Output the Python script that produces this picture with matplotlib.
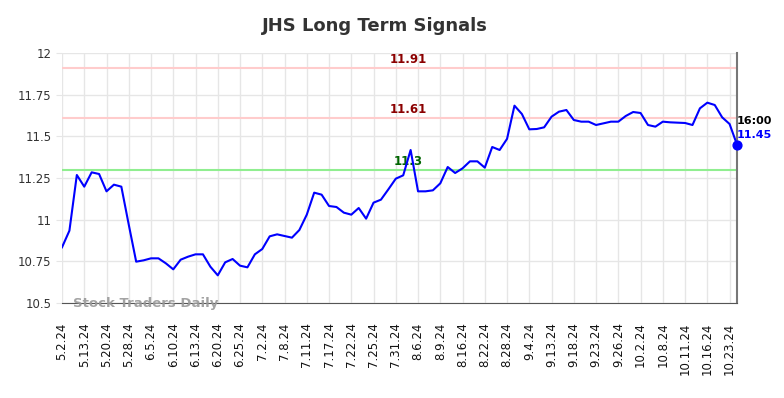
import matplotlib
matplotlib.use("Agg")
import matplotlib.pyplot as plt
import numpy as np

# tick labels (one every 3 points)
tick_labels = ["5.2.24", "5.13.24", "5.20.24", "5.28.24", "6.5.24", "6.10.24",
               "6.13.24", "6.20.24", "6.25.24", "7.2.24", "7.8.24", "7.11.24",
               "7.17.24", "7.22.24", "7.25.24", "7.31.24", "8.6.24", "8.9.24",
               "8.16.24", "8.22.24", "8.28.24", "9.4.24", "9.13.24", "9.18.24",
               "9.23.24", "9.26.24", "10.2.24", "10.8.24", "10.11.24", "10.16.24",
               "10.23.24"]

prices = [10.834, 10.934, 11.268, 11.198, 11.284, 11.274, 11.170, 11.210, 11.198, 10.970,
          10.748, 10.756, 10.768, 10.768, 10.738, 10.702, 10.760, 10.778, 10.792, 10.792,
          10.718, 10.666, 10.744, 10.764, 10.724, 10.714, 10.792, 10.824, 10.900, 10.912,
          10.902, 10.892, 10.938, 11.030, 11.162, 11.150, 11.082, 11.076, 11.042, 11.030,
          11.070, 11.006, 11.102, 11.120, 11.182, 11.246, 11.266, 11.418, 11.170, 11.170,
          11.176, 11.218, 11.316, 11.280, 11.308, 11.350, 11.350, 11.312, 11.436, 11.418,
          11.485, 11.684, 11.634, 11.542, 11.544, 11.554, 11.618, 11.648, 11.658, 11.598,
          11.588, 11.588, 11.568, 11.578, 11.588, 11.588, 11.622, 11.646, 11.640, 11.568,
          11.558, 11.588, 11.584, 11.582, 11.580, 11.568, 11.668, 11.702, 11.688, 11.614,
          11.574, 11.45]

resist_high = 11.91
resist_low = 11.61
support = 11.3
last_time = "16:00"

x = np.arange(len(prices))
tick_pos = np.arange(0, len(prices), 3)[:len(tick_labels)]

fig = plt.figure(figsize=(7.84, 3.98), dpi=100)
ax = fig.add_axes([62 / 784, 1 - 303 / 398, 675 / 784, 250 / 398])

ax.plot(x, prices, color="blue", lw=1.5, zorder=5)
ax.scatter([x[-1]], [prices[-1]], color="blue", s=40, zorder=6, clip_on=False)

ax.axhline(resist_high, color="#ffcccc", lw=1.5, zorder=2)
ax.axhline(resist_low, color="#ffcccc", lw=1.5, zorder=2)
ax.axhline(support, color="#90ee90", lw=1.5, zorder=2)

mid = 46.7
ax.text(mid, resist_high + 0.012, f"{resist_high:g}", color="#8b0000",
        fontsize=8.5, fontweight="bold", ha="center", va="bottom")
ax.text(mid, resist_low + 0.012, f"{resist_low:g}", color="#8b0000",
        fontsize=8.5, fontweight="bold", ha="center", va="bottom")
ax.text(mid, support + 0.012, f"{support:g}", color="#006400",
        fontsize=8.5, fontweight="bold", ha="center", va="bottom", zorder=4)

ax.annotate(last_time, (x[-1], prices[-1]), xytext=(0, 24), textcoords="offset pixels",
            fontsize=8, fontweight="bold", color="black", ha="left", va="center",
            annotation_clip=False)
ax.annotate(f"{prices[-1]:.2f}", (x[-1], prices[-1]), xytext=(0, 10), textcoords="offset pixels",
            fontsize=8, fontweight="bold", color="blue", ha="left", va="center",
            annotation_clip=False)

ax.text(1.5, 10.5, "Stock Traders Daily", color="#999999", fontsize=9.5,
        fontweight="bold", ha="left", va="center", alpha=0.9, zorder=7)

ax.set_xlim(0, len(prices) - 1)
ax.set_ylim(10.5, 12)
ax.set_yticks([10.5, 10.75, 11, 11.25, 11.5, 11.75, 12])
ax.set_yticklabels(["10.5", "10.75", "11", "11.25", "11.5", "11.75", "12"])
ax.set_xticks(tick_pos)
ax.set_xticklabels(tick_labels, rotation=90)

ax.grid(True, color="#e6e6e6", lw=1)
ax.set_axisbelow(True)
ax.tick_params(axis="y", length=4, color="#e6e6e6", labelsize=8.5, labelcolor="#333333")
ax.tick_params(axis="x", length=0, labelsize=8.5, labelcolor="#111111", pad=14)

for s in ["top", "left"]:
    ax.spines[s].set_visible(False)
ax.spines["bottom"].set_color("#555555")
ax.spines["right"].set_color("#777777")
ax.spines["right"].set_linewidth(1.5)

fig.text(375 / 784, 1 - 26 / 398, "JHS Long Term Signals", fontsize=13, fontweight="bold",
         color="#333333", ha="center", va="center")

fig.savefig("out.png", dpi=100)
